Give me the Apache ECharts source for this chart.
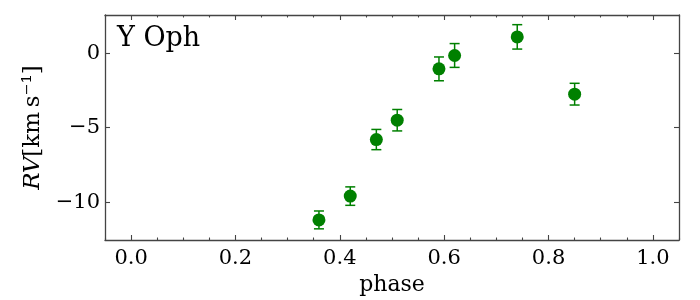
<!DOCTYPE html>
<html><head><meta charset="utf-8">
<script src="https://cdn.jsdelivr.net/npm/echarts@6/dist/echarts.min.js"></script>
<style>html,body{margin:0;padding:0;background:#fff}#c{width:700px;height:300px}</style>
</head><body><div id="c"></div>
<script>
const phase = [0.36, 0.42, 0.47, 0.51, 0.59, 0.62, 0.74, 0.85];
const rv = [-11.2, -9.6, -5.8, -4.5, -1.05, -0.15, 1.1, -2.75];
const rvErr = [0.6, 0.62, 0.68, 0.72, 0.8, 0.8, 0.82, 0.73];
const xTicks = [0, 0.2, 0.4, 0.6, 0.8, 1.0];
const xMinorTicks = [-0.05, 0.05, 0.1, 0.15, 0.25, 0.3, 0.35, 0.45, 0.5, 0.55, 0.65, 0.7, 0.75, 0.85, 0.9, 0.95, 1.05];
const yTicks = [-10, -5, 0];
const starName = 'Y Oph';

const FONT = 'DejaVu Serif';
const frame = {color: '#444', width: 1.3};
const tickStyle = {color: '#444', width: 1.1};
const green = '#008000';

function xAx(pos, minor, labels) {
  return {
    type: 'value', position: pos, min: -0.05, max: 1.05,
    axisLine: {show: !minor, onZero: false, lineStyle: frame},
    axisTick: {show: true, inside: true, length: minor ? 2.5 : 5, customValues: minor ? xMinorTicks : xTicks, lineStyle: tickStyle},
    axisLabel: labels ? {show: true, customValues: xTicks, formatter: v => v.toFixed(1), fontFamily: FONT, fontSize: 21, color: '#000', margin: 8} : {show: false},
    splitLine: {show: false},
    name: labels ? 'phase' : '', nameLocation: 'middle', nameGap: 30,
    nameTextStyle: {fontFamily: FONT, fontSize: 22, color: '#000', verticalAlign: 'top'}
  };
}
function yAx(pos, labels) {
  return {
    type: 'value', position: pos, min: -12.55, max: 2.57,
    axisLine: {show: true, onZero: false, lineStyle: frame},
    axisTick: {show: true, inside: true, length: 5, customValues: yTicks, lineStyle: tickStyle},
    axisLabel: labels ? {show: true, customValues: yTicks, formatter: v => String(v).replace('-', '\u2212'), fontFamily: FONT, fontSize: 21, color: '#000', margin: 5} : {show: false},
    splitLine: {show: false},
    name: labels ? '{i|RV}[km\u2009s\u207B\u00B9]' : '', nameLocation: 'middle', nameRotate: 90, nameGap: 59,
    nameTextStyle: {fontFamily: FONT, fontSize: 23, color: '#000', rich: {i: {fontFamily: FONT, fontStyle: 'italic', fontSize: 23, color: '#000'}}}
  };
}

const chart = echarts.init(document.getElementById('c'), null, {renderer: 'canvas'});
chart.setOption({
  animation: false,
  grid: {left: 105, right: 21, top: 15, bottom: 60, containLabel: false, outerBoundsMode: 'none'},
  xAxis: [xAx('bottom', false, true), xAx('bottom', true, false), xAx('top', false, false), xAx('top', true, false)],
  yAxis: [yAx('left', true), yAx('right', false)],
  graphic: [{type: 'text', left: 117, top: 25, style: {text: starName, fontFamily: FONT, fontSize: 27, fill: '#000'}}],
  series: [
    {
      type: 'custom', xAxisIndex: 0, yAxisIndex: 0, z: 2,
      data: phase.map((p, i) => [p, rv[i] - rvErr[i], rv[i] + rvErr[i]]),
      encode: {x: 0, y: [1, 2]},
      renderItem: function (params, api) {
        const x = api.value(0);
        const a = api.coord([x, api.value(1)]);
        const b = api.coord([x, api.value(2)]);
        const cap = 5;
        const st = {stroke: green, lineWidth: 1.5};
        return {type: 'group', children: [
          {type: 'line', shape: {x1: a[0], y1: a[1], x2: b[0], y2: b[1]}, style: st},
          {type: 'line', shape: {x1: a[0] - cap, y1: a[1], x2: a[0] + cap, y2: a[1]}, style: st},
          {type: 'line', shape: {x1: b[0] - cap, y1: b[1], x2: b[0] + cap, y2: b[1]}, style: st}
        ]};
      }
    },
    {
      type: 'scatter', xAxisIndex: 0, yAxisIndex: 0, z: 3,
      data: phase.map((p, i) => [p, rv[i]]),
      symbol: 'circle', symbolSize: 13,
      itemStyle: {color: green, opacity: 1}
    }
  ]
});
</script></body></html>
